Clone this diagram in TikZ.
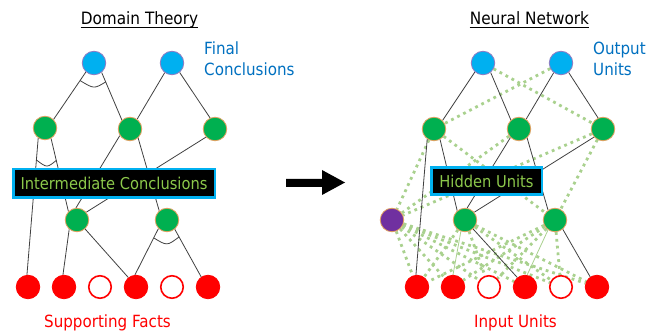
\documentclass[tikz,border=0pt]{standalone}
\usepackage{fontspec}
\setmainfont{DejaVu Sans}[FakeStretch=0.9]
\usetikzlibrary{calc}
\definecolor{cblue}{HTML}{00B0F0}
\definecolor{cgreen}{HTML}{00B050}
\definecolor{cpurple}{HTML}{7030A0}
\definecolor{cred}{HTML}{FF0000}
\definecolor{ctxtblue}{HTML}{0070C0}
\definecolor{clgreen}{HTML}{A9D18E}
\definecolor{cboxtxt}{HTML}{8CC84B}
\definecolor{cedge}{HTML}{404040}
\definecolor{corange}{HTML}{E0A060}
\definecolor{cbluerim}{HTML}{8E7CC3}
\pgfdeclarelayer{bg}
\pgfsetlayers{bg,main}
\tikzset{
  unit/.style={circle, minimum size=23.5pt, inner sep=0pt, line width=0.8pt},
  outu/.style={unit, fill=cblue, draw=cbluerim},
  hidu/.style={unit, fill=cgreen, draw=corange},
  newu/.style={unit, fill=cpurple, draw=corange},
  inon/.style={unit, fill=cred, draw=cred},
  inoff/.style={unit, fill=white, draw=cred, line width=1.6pt, minimum size=22.5pt},
  link/.style={draw=cedge, line width=0.8pt},
  weak/.style={draw=clgreen, line width=2.8pt, dash pattern=on 2.8pt off 4pt},
  faint/.style={draw=clgreen, line width=0.8pt},
  ttl/.style={font=\fontsize{17}{20}\selectfont, inner sep=0pt, anchor=base},
  lbl/.style={font=\fontsize{16.8}{20}\selectfont, inner sep=0pt, anchor=base},
  hbox/.style={rectangle, fill=black, draw=cblue, line width=2.5pt, text=cboxtxt,
    font=\fontsize{16.3}{19}\selectfont, inner sep=0pt}
}
\begin{document}
\begin{tikzpicture}[x=1pt,y=-1pt]
\useasboundingbox (0,0) rectangle (649,334);

% ---------------- titles ----------------
\node[ttl] (t1) at (139.5,25) {Domain Theory};
\draw[line width=0.9pt] ([yshift=-2pt]t1.base west) -- ([yshift=-2pt]t1.base east);
\node[ttl] (t2) at (529.5,25) {Neural Network};
\draw[line width=0.9pt] ([yshift=-2pt]t2.base west) -- ([yshift=-2pt]t2.base east);

\node[lbl, anchor=base west, text=ctxtblue] (fc1) at (204,55) {Final};
\node[lbl, anchor=base west, text=ctxtblue] (fc2) at (204,76) {Conclusions};
\node[lbl, anchor=base west, text=ctxtblue] (ou1) at (593,55) {Output};
\node[lbl, anchor=base west, text=ctxtblue] (ou2) at (593,76) {Units};
\node[lbl, text=cred] (sf) at (107.5,327) {Supporting Facts};
\node[lbl, text=cred] (iu) at (515.5,327) {Input Units};

% ---------------- left: domain theory ----------------
\node[outu] (b1) at (94,63) {};
\node[outu] (b2) at (172,63) {};
\node[hidu] (g1) at (45,128) {};
\node[hidu] (g2) at (130,129) {};
\node[hidu] (g3) at (215,129) {};
\node[hidu] (g4) at (77,220) {};
\node[hidu] (g5) at (167,220) {};
\node[inon]  (r1) at (28,287) {};
\node[inon]  (r2) at (64,287) {};
\node[inoff] (r3) at (100,287) {};
\node[inon]  (r4) at (136,287) {};
\node[inoff] (r5) at (172,287) {};
\node[inon]  (r6) at (208,287) {};
\node[hbox, minimum width=201.5pt, minimum height=28.5pt] (ic) at (114,183.5) {Intermediate Conclusions};

% ---------------- right: neural network ----------------
\node[outu] (B1) at (483,63) {};
\node[outu] (B2) at (561,63) {};
\node[hidu] (G1) at (434,129) {};
\node[hidu] (G2) at (519,129) {};
\node[hidu] (G3) at (603,129) {};
\node[newu] (P)  at (392,220) {};
\node[hidu] (G4) at (465,220) {};
\node[hidu] (G5) at (555,220) {};
\node[inon]  (R1) at (417,287) {};
\node[inon]  (R2) at (453,287) {};
\node[inoff] (R3) at (489,287) {};
\node[inon]  (R4) at (525,287) {};
\node[inoff] (R5) at (561,287) {};
\node[inon]  (R6) at (597,287) {};
\node[hbox, minimum width=110.5pt, minimum height=27pt] (hu) at (486.5,181) {Hidden Units};

% ---------------- big arrow ----------------
\fill (286,179) -- (322,179) -- (322,170) -- (345,182.5) -- (322,195) -- (322,187) -- (286,187) -- cycle;

\begin{pgfonlayer}{bg}
% left links
\draw[link] (b1.228) -- (g1.45);
\draw[link] (b1.309) -- (g2.132);
\draw[link] (b2.233) -- (g2.54);
\draw[link] (b2.309) -- (g3.114);
\draw[link] (g1.236) -- (r1.95);
\draw[link] (g1.300) -- (g4.135);
\draw[link] (g2.213) -- (g4.95);
\draw[link] (g3.222) -- (g4.40);
\draw[link] (g2.312) -- (g5.130);
\draw[link] (g4.230) -- (r2.95);
\draw[link] (g4.312) -- (r4.129);
\draw[link] (g5.225) -- (r4.95);
\draw[link] (g5.310) -- (r6.124);
% AND arcs
\draw[link] ($(b1.228)!0.18!(g1.45)$) .. controls ($(b1)+(0,26)$) .. ($(b1.309)!0.2!(g2.132)$);
\draw[link] ($(g1.236)!0.16!(r1.95)$) .. controls ($(g1)+(2,40)$) .. ($(g1.300)!0.3!(g4.135)$);
\draw[link] ($(g5.225)!0.2!(r4.95)$) .. controls ($(g5)+(0,26)$) .. ($(g5.310)!0.16!(r6.124)$);

% right: weak (dotted) links
\foreach \a/\b in {B1/G3, B2/G1, G1/P, G1/G5, G2/P, G3/P, G3/G5,
  P/R1, P/R2, P/R3, P/R4, P/R5, P/R6,
  G4/R1, G4/R3, G4/R5, G4/R6,
  G5/R1, G5/R2, G5/R3, G5/R5}
  \draw[weak] (\a) -- (\b);
% right: knowledge links
\draw[link] (B1.228) -- (G1.45);
\draw[link] (B1.309) -- (G2.132);
\draw[link] (B2.233) -- (G2.54);
\draw[link] (B2.309) -- (G3.114);
\draw[link] (G1.236) -- (R1.95);
\draw[link] (G1.300) -- (G4.130);
\draw[link] (G2.225) -- (G4.80);
\draw[link] (G3.222) -- (G4.40);
\draw[link] (G2.312) -- (G5.125);
\draw[link] (G4.312) -- (R4.129);
\draw[link] (G5.310) -- (R6.124);
\draw[faint] (G4.250) -- (R2.90);
\draw[faint] (G5.235) -- (R4.80);
\end{pgfonlayer}
\end{tikzpicture}
\end{document}
